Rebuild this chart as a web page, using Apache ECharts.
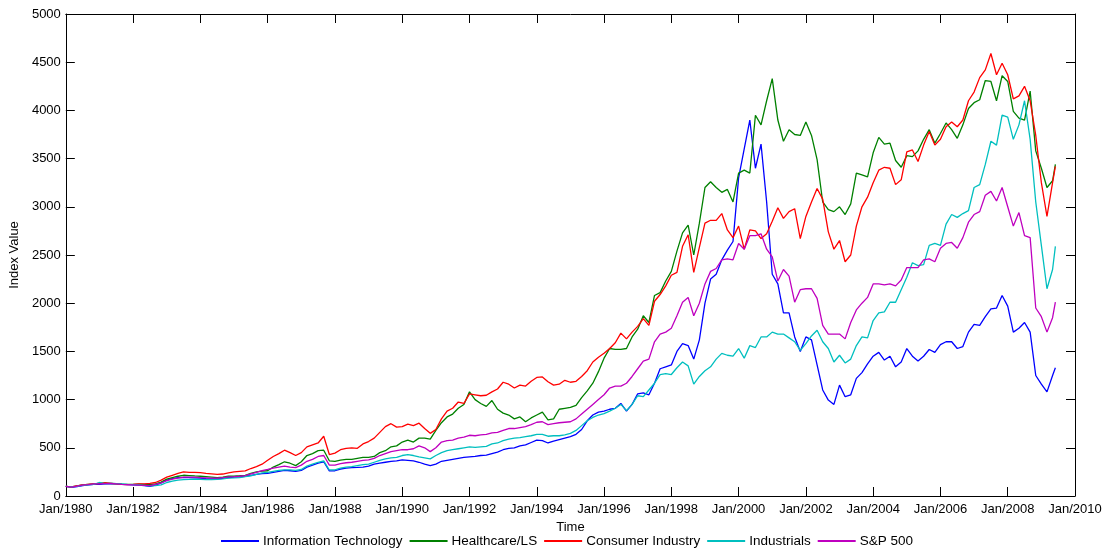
<!DOCTYPE html>
<html>
<head>
<meta charset="utf-8">
<title>Sector Index Values 1980–2009</title>
<script src="https://cdn.jsdelivr.net/npm/echarts@6/dist/echarts.min.js"></script>
<style>
  html, body { margin: 0; padding: 0; background: #fff; }
  #chart { width: 1113px; height: 551px; }
</style>
</head>
<body>
<div id="chart"></div>
<script>
// Observation dates (every second month, last point June 2009)
const dates = [
  '1980-01','1980-03','1980-05','1980-07','1980-09','1980-11',
  '1981-01','1981-03','1981-05','1981-07','1981-09','1981-11',
  '1982-01','1982-03','1982-05','1982-07','1982-09','1982-11',
  '1983-01','1983-03','1983-05','1983-07','1983-09','1983-11',
  '1984-01','1984-03','1984-05','1984-07','1984-09','1984-11',
  '1985-01','1985-03','1985-05','1985-07','1985-09','1985-11',
  '1986-01','1986-03','1986-05','1986-07','1986-09','1986-11',
  '1987-01','1987-03','1987-05','1987-07','1987-09','1987-11',
  '1988-01','1988-03','1988-05','1988-07','1988-09','1988-11',
  '1989-01','1989-03','1989-05','1989-07','1989-09','1989-11',
  '1990-01','1990-03','1990-05','1990-07','1990-09','1990-11',
  '1991-01','1991-03','1991-05','1991-07','1991-09','1991-11',
  '1992-01','1992-03','1992-05','1992-07','1992-09','1992-11',
  '1993-01','1993-03','1993-05','1993-07','1993-09','1993-11',
  '1994-01','1994-03','1994-05','1994-07','1994-09','1994-11',
  '1995-01','1995-03','1995-05','1995-07','1995-09','1995-11',
  '1996-01','1996-03','1996-05','1996-07','1996-09','1996-11',
  '1997-01','1997-03','1997-05','1997-07','1997-09','1997-11',
  '1998-01','1998-03','1998-05','1998-07','1998-09','1998-11',
  '1999-01','1999-03','1999-05','1999-07','1999-09','1999-11',
  '2000-01','2000-03','2000-05','2000-07','2000-09','2000-11',
  '2001-01','2001-03','2001-05','2001-07','2001-09','2001-11',
  '2002-01','2002-03','2002-05','2002-07','2002-09','2002-11',
  '2003-01','2003-03','2003-05','2003-07','2003-09','2003-11',
  '2004-01','2004-03','2004-05','2004-07','2004-09','2004-11',
  '2005-01','2005-03','2005-05','2005-07','2005-09','2005-11',
  '2006-01','2006-03','2006-05','2006-07','2006-09','2006-11',
  '2007-01','2007-03','2007-05','2007-07','2007-09','2007-11',
  '2008-01','2008-03','2008-05','2008-07','2008-09','2008-11',
  '2009-01','2009-03','2009-05','2009-06'
];

const infoTech = [
  100, 90, 98, 108, 115, 120,
  122, 125, 128, 125, 120, 118,
  115, 112, 108, 100, 112, 135,
  165, 180, 190, 190, 190, 188,
  185, 180, 178, 178, 182, 190,
  195, 198, 205, 215, 225, 232,
  235, 245, 255, 265, 262, 255,
  265, 300, 320, 340, 355, 260,
  262, 280, 290, 295, 297, 300,
  310, 330, 340, 350, 360, 365,
  375, 370, 365, 350, 330, 315,
  330, 360, 370, 380, 390, 400,
  405, 410, 420, 425, 440, 455,
  480, 495, 500, 520, 530, 555,
  580, 575, 550, 570, 585, 600,
  615, 640, 690, 780, 840, 870,
  880, 900, 910, 960, 880, 950,
  1060, 1070, 1050, 1170, 1320, 1340,
  1360, 1500, 1580, 1560, 1420, 1620,
  2000, 2250, 2300, 2450, 2550, 2640,
  3300, 3600, 3900, 3400, 3650, 3050,
  2300, 2200, 1900, 1900, 1650, 1500,
  1650, 1620, 1360, 1100, 995, 950,
  1150, 1030, 1050, 1220, 1280, 1370,
  1450, 1490, 1410, 1450, 1340, 1390,
  1530, 1450, 1400, 1450, 1520, 1490,
  1570, 1600, 1600, 1530, 1550, 1700,
  1780, 1770, 1860, 1940, 1950, 2080,
  1970, 1700, 1740, 1800, 1700, 1250,
  1160, 1080, 1250, 1330
];

const healthcare = [
  100, 95, 105, 115, 120, 125,
  130, 135, 132, 128, 122, 120,
  120, 122, 120, 118, 125, 145,
  175, 190, 205, 215, 212, 208,
  205, 200, 195, 190, 195, 205,
  207, 210, 215, 235, 250, 258,
  262, 300, 325, 355, 340, 315,
  355, 420, 440, 470, 475, 365,
  360, 373, 380, 380, 390, 400,
  400, 410, 450, 470, 510, 520,
  560, 580, 560, 600, 600, 590,
  680, 760, 820, 850, 910, 950,
  1080, 1000, 960, 930, 990, 900,
  860, 840, 800, 820, 770, 810,
  840, 870, 790, 800, 900, 910,
  920, 940, 1020, 1090, 1170, 1290,
  1430, 1530, 1520, 1520, 1530, 1650,
  1730, 1870, 1800, 2080, 2110, 2230,
  2330, 2540, 2730, 2810, 2500, 2830,
  3200, 3260, 3200, 3150, 3180, 3050,
  3350, 3380, 3350, 3950, 3850, 4100,
  4330, 3900, 3680, 3800, 3750, 3740,
  3880, 3740, 3490, 3050, 2970, 2950,
  3000, 2920, 3030, 3350, 3330, 3310,
  3560, 3720, 3650, 3660, 3480, 3410,
  3530, 3520, 3580, 3700, 3800, 3660,
  3760, 3870, 3800, 3710, 3850, 4020,
  4080, 4110, 4310, 4300, 4100, 4360,
  4300, 3990, 3920, 3900, 4200, 3580,
  3400, 3200, 3270, 3440
];

const consumer = [
  100, 95, 105, 115, 120, 125,
  130, 135, 130, 125, 120, 118,
  120, 125, 125, 130, 140, 165,
  195, 215, 235, 250, 245, 245,
  242, 235, 230, 225, 228, 240,
  250, 255, 260, 285, 305, 330,
  370, 410, 440, 475, 450, 420,
  450, 510, 530, 550, 620, 430,
  445, 480, 495, 500, 495, 540,
  565, 600, 660, 720, 750, 715,
  720, 745, 730, 755, 700, 650,
  690, 800, 880, 910, 975, 960,
  1060, 1050, 1040, 1045, 1080, 1110,
  1180, 1160, 1120, 1150, 1140, 1190,
  1230, 1235, 1185, 1150, 1160, 1200,
  1180, 1190, 1240, 1300, 1390, 1440,
  1480, 1530, 1590, 1690, 1630, 1700,
  1760, 1840, 1770, 2020, 2090, 2180,
  2290, 2320, 2590, 2710, 2320, 2580,
  2830, 2860, 2860, 2930, 2760, 2680,
  2800, 2560, 2760, 2750, 2670, 2720,
  2850, 2990, 2880, 2950, 2980, 2670,
  2900, 3050, 3190, 3080, 2740, 2560,
  2650, 2430, 2500, 2800, 3000, 3100,
  3250, 3380, 3410, 3400, 3230, 3280,
  3570, 3590, 3470, 3640, 3780, 3640,
  3700, 3830, 3880, 3830, 3900, 4100,
  4190, 4340, 4420, 4590, 4370, 4490,
  4370, 4120, 4150, 4250, 4100, 3740,
  3250, 2900, 3250, 3420
];

const industrials = [
  100, 95, 100, 110, 115, 120,
  140, 125, 130, 128, 125, 120,
  118, 115, 110, 105, 108, 115,
  140, 155, 165, 170, 172, 175,
  172, 170, 170, 172, 178, 185,
  187, 190, 200, 210, 225, 240,
  245, 255, 265, 270, 270, 265,
  275, 310, 330, 350, 365, 270,
  270, 290, 300, 305, 315, 325,
  330, 350, 370, 385, 395, 400,
  420, 430, 420, 405, 395, 385,
  420, 450, 470, 480, 490, 500,
  510, 505, 510, 515, 540, 550,
  575, 590, 600, 605, 615, 625,
  640, 640, 620, 625, 625, 635,
  650, 680, 730, 780, 815, 840,
  855, 880, 910, 950, 885, 950,
  1040, 1030, 1100, 1170, 1260, 1270,
  1260, 1330, 1390, 1350, 1160, 1240,
  1300, 1340, 1420, 1480, 1460, 1450,
  1530, 1430, 1560, 1540, 1650, 1650,
  1700, 1680, 1680, 1640, 1600, 1510,
  1580, 1660, 1720, 1600, 1530, 1390,
  1460, 1380, 1420, 1560, 1650, 1640,
  1820, 1900, 1910, 2010, 2010, 2140,
  2270, 2420, 2390, 2400, 2600, 2620,
  2600, 2820, 2920, 2890, 2930, 2960,
  3200, 3230, 3440, 3680, 3640, 3950,
  3930, 3700, 3850, 4100, 3700, 3050,
  2600, 2150, 2350, 2590
];

const sp500 = [
  100, 92, 102, 112, 118, 125,
  125, 128, 130, 125, 120, 118,
  115, 112, 110, 108, 120, 135,
  160, 175, 185, 195, 195, 195,
  190, 188, 185, 185, 190, 198,
  200, 205, 212, 230, 245, 262,
  275, 290, 300, 310, 300, 295,
  320, 360, 380, 410, 420, 320,
  320, 335, 345, 350, 360, 370,
  375, 390, 420, 440, 460, 470,
  480, 480, 490, 520, 500, 460,
  500, 560, 575, 580, 600, 610,
  630, 625, 635, 640, 655, 660,
  680, 700, 700, 710, 720, 740,
  765, 770, 740, 750, 760, 765,
  770, 800, 850, 900, 950, 1000,
  1050, 1120, 1140, 1140, 1170, 1240,
  1320, 1400, 1420, 1600, 1680, 1700,
  1740, 1870, 2010, 2060, 1870, 2000,
  2200, 2330, 2360, 2450, 2460, 2450,
  2620, 2560, 2700, 2700, 2720, 2560,
  2480, 2230, 2350, 2280, 2010, 2140,
  2150, 2150, 2050, 1770, 1680, 1680,
  1680, 1630, 1800, 1930, 2000, 2060,
  2200, 2200, 2190, 2200, 2180, 2240,
  2370, 2370, 2370, 2450, 2460, 2430,
  2570, 2620, 2630, 2570, 2680, 2840,
  2920, 2950, 3120, 3160, 3060, 3200,
  3000, 2800, 2940, 2700, 2680, 1950,
  1860, 1700, 1850, 2010
];

const seriesNames = ['Information Technology', 'Healthcare/LS', 'Consumer Industry', 'Industrials', 'S&P 500'];
const seriesValues = [infoTech, healthcare, consumer, industrials, sp500];
const seriesColors = ['#0000ff', '#008000', '#ff0000', '#00bfbf', '#bf00bf'];

const xTickLabels = ['Jan/1980','Jan/1982','Jan/1984','Jan/1986','Jan/1988','Jan/1990','Jan/1992','Jan/1994',
                     'Jan/1996','Jan/1998','Jan/2000','Jan/2002','Jan/2004','Jan/2006','Jan/2008','Jan/2010'];
const yTickLabels = ['0','500','1000','1500','2000','2500','3000','3500','4000','4500','5000'];

// months elapsed since January 1980
function monthIndex(d) {
  const [y, m] = d.split('-').map(Number);
  return (y - 1980) * 12 + (m - 1);
}

const FONT = '"Liberation Sans", Arial, Helvetica, sans-serif';
const axisLineStyle = { color: '#000', width: 1 };
const tickStyle = { show: true, inside: true, length: 9, lineStyle: { color: '#000', width: 1 } };

const chart = echarts.init(document.getElementById('chart'), null, { renderer: 'canvas' });

chart.setOption({
  animation: false,
  backgroundColor: '#ffffff',
  textStyle: { fontFamily: FONT },
  grid: { left: 63, top: 14, width: 1012, height: 482, containLabel: false },
  legend: {
    data: seriesNames.map(n => ({ name: n, icon: 'rect' })),
    left: 221,
    top: 532,
    padding: 0,
    itemWidth: 38,
    itemHeight: 2,
    itemGap: 7,
    textStyle: { fontFamily: FONT, fontSize: 13.5, lineHeight: 18, color: '#000', padding: [0, 0, 0, -1] }
  },
  xAxis: [
    {
      type: 'value', min: 0, max: 360, interval: 24, position: 'bottom',
      name: 'Time', nameLocation: 'middle', nameGap: 19,
      nameTextStyle: { fontFamily: FONT, fontSize: 13, color: '#000' },
      axisLine: { show: true, onZero: false, lineStyle: axisLineStyle },
      axisTick: tickStyle,
      axisLabel: { show: true, margin: 7, fontFamily: FONT, fontSize: 13, color: '#000',
        formatter: v => xTickLabels[Math.round(v / 24)] },
      splitLine: { show: false }
    },
    {
      type: 'value', min: 0, max: 360, interval: 24, position: 'top',
      axisLine: { show: true, onZero: false, lineStyle: axisLineStyle },
      axisTick: tickStyle,
      axisLabel: { show: false },
      splitLine: { show: false }
    }
  ],
  yAxis: [
    {
      type: 'value', min: 0, max: 5000, interval: 500, position: 'left',
      name: 'Index Value', nameLocation: 'middle', nameGap: 35,
      nameTextStyle: { fontFamily: FONT, fontSize: 13, color: '#000' },
      axisLine: { show: true, onZero: false, lineStyle: axisLineStyle },
      axisTick: tickStyle,
      axisLabel: { show: true, margin: 5, fontFamily: FONT, fontSize: 13, color: '#000',
        formatter: v => yTickLabels[Math.round(v / 500)] },
      splitLine: { show: false }
    },
    {
      type: 'value', min: 0, max: 5000, interval: 500, position: 'right',
      axisLine: { show: true, onZero: false, lineStyle: axisLineStyle },
      axisTick: tickStyle,
      axisLabel: { show: false },
      splitLine: { show: false }
    }
  ],
  series: seriesNames.map((name, k) => ({
    name: name,
    type: 'line',
    xAxisIndex: 0,
    yAxisIndex: 0,
    symbol: 'none',
    showSymbol: false,
    smooth: false,
    color: seriesColors[k],
    lineStyle: { color: seriesColors[k], width: 1.3 },
    z: 2 + k,
    data: dates.map((d, i) => [monthIndex(d), seriesValues[k][i]])
  }))
});
</script>
</body>
</html>
